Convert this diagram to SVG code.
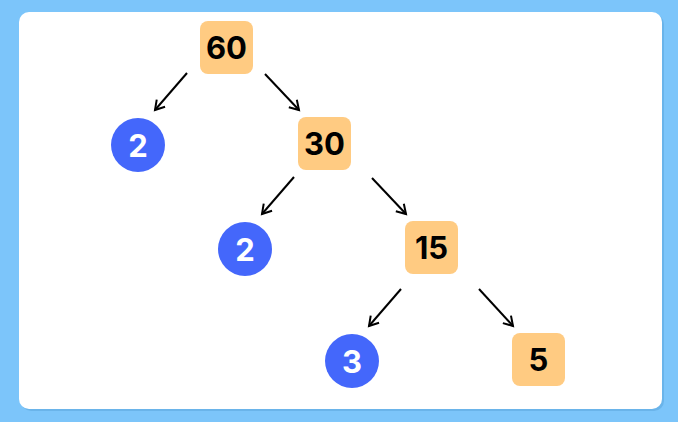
<svg xmlns="http://www.w3.org/2000/svg" width="678" height="422" viewBox="0 0 678 422">
<defs>
<style>
.sq{fill:#ffcb82}
.ci{fill:#4467fb}
.t{font-family:Inter,"Liberation Sans",sans-serif;font-weight:700;font-size:31px;text-anchor:middle}
.dk{fill:#000}
.wt{fill:#fff}
.e{stroke:#000;stroke-width:2;fill:none;marker-end:url(#ah)}
</style>
<marker id="ah" viewBox="0 0 14 14" refX="11" refY="7" markerWidth="14" markerHeight="14" markerUnits="userSpaceOnUse" orient="auto">
<path d="M2,1.5 L11,7 L2,12.5" fill="none" stroke="#000" stroke-width="2"/>
</marker>
</defs>
<rect width="678" height="422" fill="#7cc5fa"/>
<rect x="21" y="14" width="643" height="397" rx="10" fill="#6ab4ea"/>
<rect x="19" y="12" width="643" height="397" rx="10" fill="#fff"/>
<g id="edges">
<line class="e" x1="187" y1="73" x2="155" y2="110"/>
<line class="e" x1="265" y1="74" x2="299" y2="110"/>
<line class="e" x1="294" y1="177" x2="262" y2="214"/>
<line class="e" x1="372" y1="178" x2="406" y2="214"/>
<line class="e" x1="401" y1="289" x2="369" y2="326"/>
<line class="e" x1="479" y1="289" x2="513" y2="326"/>
</g>
<g id="n60"><rect class="sq" x="200" y="21" width="53" height="53" rx="8"/><text class="t dk" x="226.5" y="59">60</text></g>
<g id="n2a"><circle class="ci" cx="138" cy="145" r="27"/><text class="t wt" x="138" y="156.5">2</text></g>
<g id="n30"><rect class="sq" x="298" y="117" width="53" height="53" rx="8"/><text class="t dk" x="324.5" y="155">30</text></g>
<g id="n2b"><circle class="ci" cx="245" cy="249" r="27"/><text class="t wt" x="245" y="260.5">2</text></g>
<g id="n15"><rect class="sq" x="405" y="221" width="53" height="53" rx="8"/><text class="t dk" x="431.5" y="259">15</text></g>
<g id="n3"><circle class="ci" cx="352" cy="361" r="27"/><text class="t wt" x="352" y="372.5">3</text></g>
<g id="n5"><rect class="sq" x="512" y="333" width="53" height="53" rx="8"/><text class="t dk" x="538.5" y="371">5</text></g>
</svg>
